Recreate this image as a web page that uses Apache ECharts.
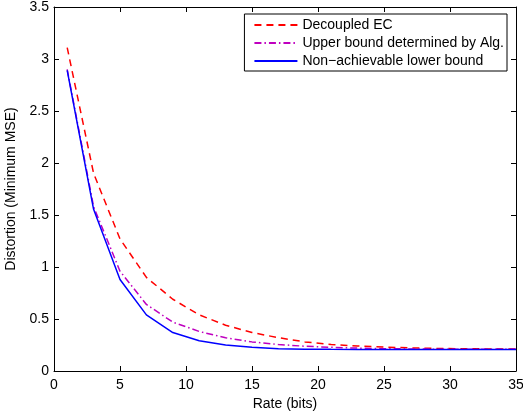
<!DOCTYPE html>
<html>
<head>
<meta charset="utf-8">
<script src="https://cdn.jsdelivr.net/npm/echarts@6/dist/echarts.min.js"></script>
<style>
html,body{margin:0;padding:0;background:#fff;}
#chart{width:523px;height:416px;}
</style>
</head>
<body>
<div id="chart"></div>
<script>
// Data
const rates = [1, 3, 5, 7, 9, 11, 13, 15, 17, 19, 21, 23, 25, 27, 29, 31, 33, 35];
const decoupledEC = [3.11, 1.90, 1.27, 0.90, 0.69, 0.54, 0.44, 0.37, 0.32, 0.28, 0.255, 0.24, 0.23, 0.222, 0.217, 0.214, 0.212, 0.211];
const upperBound = [2.90, 1.58, 0.96, 0.64, 0.47, 0.38, 0.32, 0.28, 0.255, 0.238, 0.228, 0.22, 0.215, 0.212, 0.21, 0.209, 0.208, 0.208];
const lowerBound = [2.89, 1.555, 0.88, 0.54, 0.37, 0.29, 0.25, 0.228, 0.215, 0.21, 0.208, 0.207, 0.207, 0.207, 0.207, 0.207, 0.207, 0.207];
const seriesNames = ['Decoupled EC', 'Upper bound determined by Alg.', 'Non\u2212achievable lower bound'];
const xTitle = 'Rate (bits)';
const yTitle = 'Distortion (Minimum MSE)';

const pairs = (ys) => rates.map((x, i) => [x, ys[i]]);
const font = 'Liberation Sans, Arial, Helvetica, sans-serif';
const axisCommon = {
  axisLine: {show: true, onZero: false, lineStyle: {color: '#000', width: 1}},
  axisTick: {show: true, inside: true, length: 5, lineStyle: {color: '#000', width: 1}},
  splitLine: {show: false}
};

const chart = echarts.init(document.getElementById('chart'), null, {renderer: 'canvas'});
chart.setOption({
  animation: false,
  backgroundColor: '#fff',
  textStyle: {fontFamily: font},
  grid: {left: 54, right: 7, top: 7, bottom: 45, containLabel: false, outerBoundsMode: 'none'},
  legend: {
    orient: 'vertical',
    right: 16,
    top: 14,
    padding: [3, 3, 2, 9],
    itemGap: 2,
    itemWidth: 43,
    itemHeight: 10,
    backgroundColor: '#fff',
    borderColor: '#000',
    borderWidth: 1,
    borderRadius: 0,
    itemStyle: {opacity: 0},
    textStyle: {fontFamily: font, fontSize: 14, color: '#000', lineHeight: 16},
    data: seriesNames
  },
  xAxis: [
    Object.assign({}, axisCommon, {
      type: 'value', min: 0, max: 35, interval: 5, position: 'bottom',
      name: xTitle, nameLocation: 'middle', nameGap: 22,
      nameTextStyle: {fontFamily: font, fontSize: 14, color: '#000'},
      axisLabel: {fontFamily: font, fontSize: 14, color: '#000', margin: 7}
    }),
    Object.assign({}, axisCommon, {
      type: 'value', min: 0, max: 35, interval: 5, position: 'top',
      axisLabel: {show: false}
    })
  ],
  yAxis: [
    Object.assign({}, axisCommon, {
      type: 'value', min: 0, max: 3.5, interval: 0.5, position: 'left',
      name: yTitle, nameLocation: 'middle', nameGap: 24, nameRotate: 90,
      nameTextStyle: {fontFamily: font, fontSize: 14, color: '#000'},
      axisLabel: {fontFamily: font, fontSize: 14, color: '#000', margin: 5}
    }),
    Object.assign({}, axisCommon, {
      type: 'value', min: 0, max: 3.5, interval: 0.5, position: 'right',
      axisLabel: {show: false}
    })
  ],
  series: [
    {
      name: seriesNames[0], type: 'line', xAxisIndex: 0, yAxisIndex: 0,
      data: pairs(decoupledEC), symbol: 'none', smooth: false,
      color: '#ff0000',
      lineStyle: {color: '#ff0000', width: 1.5, type: [7, 5]}
    },
    {
      name: seriesNames[1], type: 'line', xAxisIndex: 0, yAxisIndex: 0,
      data: pairs(upperBound), symbol: 'none', smooth: false,
      color: '#bf00bf',
      lineStyle: {color: '#bf00bf', width: 1.5, type: [7, 3, 1.5, 3]}
    },
    {
      name: seriesNames[2], type: 'line', xAxisIndex: 0, yAxisIndex: 0,
      data: pairs(lowerBound), symbol: 'none', smooth: false,
      color: '#0000ff',
      lineStyle: {color: '#0000ff', width: 1.5, type: 'solid'}
    }
  ]
});
</script>
</body>
</html>
